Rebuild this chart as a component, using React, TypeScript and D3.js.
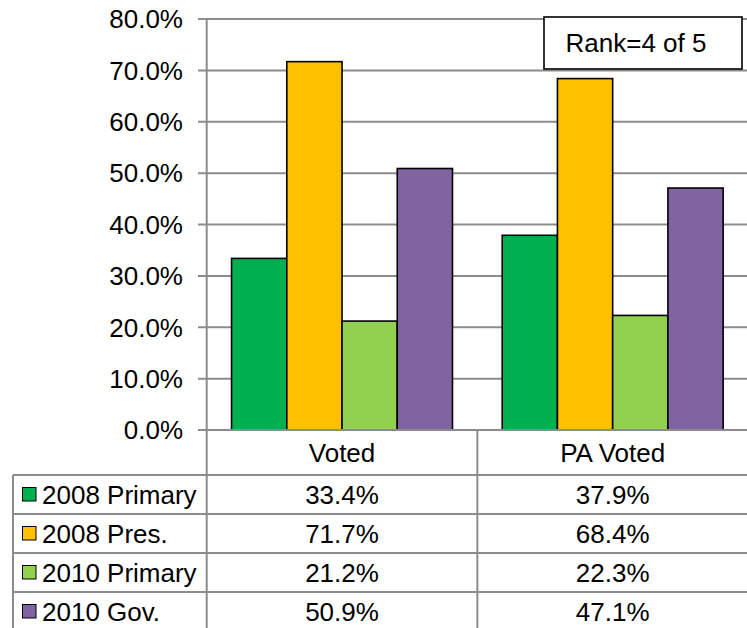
import React from "react";
import * as d3 from "d3";

const categories = ["Voted", "PA Voted"];
const seriesNames = ["2008 Primary", "2008 Pres.", "2010 Primary", "2010 Gov."];
const seriesColors = ["#00B050", "#FFC000", "#92D050", "#8064A2"];
const votedValues = [0.334, 0.717, 0.212, 0.509];
const paVotedValues = [0.379, 0.684, 0.223, 0.471];
const tickValues = [0, 0.1, 0.2, 0.3, 0.4, 0.5, 0.6, 0.7, 0.8];
const rankLabel = "Rank=4 of 5";

const W = 747;
const H = 628;
const FONT = "Liberation Sans, Arial, sans-serif";
const FS = 26;
const GRID = "#8c8c8c";

export default function App() {
  const plotLeft = 206.7;
  const plotRight = 748;
  const y = d3.scaleLinear().domain([0, 0.8]).range([430, 19]);
  const x0 = d3.scaleBand<string>().domain(categories).range([plotLeft, plotRight]).paddingInner(0).paddingOuter(0);
  const x1 = d3
    .scaleBand<string>()
    .domain(seriesNames)
    .range([0, x0.bandwidth()])
    .paddingInner(0)
    .paddingOuter(0.45);
  const valuesByCat = [votedValues, paVotedValues];
  const fmt = d3.format(".1%");

  const headerTop = 430;
  const rowTop = 475;
  const rowH = 39;
  const tableLeft = 13;
  const rowLines = d3.range(seriesNames.length + 1).map((i) => rowTop + i * rowH);

  return (
    <svg
      width={W}
      height={H}
      style={{ position: "absolute", left: 0, top: 0, background: "#fff" }}
      fontFamily={FONT}
    >
      <rect x={0} y={0} width={W} height={H} fill="#fff" />
      {/* gridlines */}
      {tickValues.map((t) => (
        <line key={"g" + t} x1={198} x2={plotRight} y1={y(t)} y2={y(t)} stroke={GRID} strokeWidth={2} />
      ))}
      {/* tick labels */}
      {tickValues.map((t) => (
        <text key={"t" + t} x={183} y={y(t)} dy="0.36em" textAnchor="end" fontSize={FS} fill="#000">
          {fmt(t)}
        </text>
      ))}
      {/* bars */}
      {categories.map((c, ci) =>
        seriesNames.map((s, si) => (
          <rect
            key={c + s}
            x={(x0(c) as number) + (x1(s) as number)}
            y={y(valuesByCat[ci][si])}
            width={x1.bandwidth()}
            height={y(0) - y(valuesByCat[ci][si])}
            fill={seriesColors[si]}
            stroke="#000"
            strokeWidth={1.6}
          />
        ))
      )}
      {/* axis line */}
      <line x1={plotLeft} x2={plotLeft} y1={y(0.8)} y2={H} stroke={GRID} strokeWidth={2} />
      <line x1={198} x2={plotRight} y1={y(0)} y2={y(0)} stroke={GRID} strokeWidth={2} />
      {/* table vertical lines */}
      {categories.map((c) => (
        <line
          key={"v" + c}
          x1={(x0(c) as number) + x0.bandwidth()}
          x2={(x0(c) as number) + x0.bandwidth()}
          y1={headerTop}
          y2={H}
          stroke={GRID}
          strokeWidth={2}
        />
      ))}
      <line x1={tableLeft} x2={tableLeft} y1={rowTop} y2={H} stroke={GRID} strokeWidth={2} />
      {rowLines.map((ry) => (
        <line key={"r" + ry} x1={tableLeft} x2={plotRight} y1={ry} y2={ry} stroke={GRID} strokeWidth={2} />
      ))}
      {/* header labels */}
      {categories.map((c) => (
        <text
          key={"h" + c}
          x={(x0(c) as number) + x0.bandwidth() / 2}
          y={(headerTop + rowTop) / 2}
          dy="0.36em"
          textAnchor="middle"
          fontSize={FS}
        >
          {c}
        </text>
      ))}
      {/* rows */}
      {seriesNames.map((s, si) => {
        const cy = rowTop + si * rowH + rowH / 2;
        return (
          <g key={"row" + s}>
            <rect x={22.5} y={cy - 7} width={13.5} height={13.5} fill={seriesColors[si]} stroke="#000" strokeWidth={1} />
            <text x={42} y={cy} dy="0.36em" fontSize={FS}>
              {s}
            </text>
            {categories.map((c, ci) => (
              <text
                key={c}
                x={(x0(c) as number) + x0.bandwidth() / 2}
                y={cy}
                dy="0.36em"
                textAnchor="middle"
                fontSize={FS}
              >
                {fmt(valuesByCat[ci][si])}
              </text>
            ))}
          </g>
        );
      })}
      {/* rank box */}
      <rect x={544} y={17} width={198} height={52} fill="#fff" stroke="#000" strokeWidth={1.6} />
      <text x={636} y={43} dy="0.36em" textAnchor="middle" fontSize={FS}>
        {rankLabel}
      </text>
    </svg>
  );
}
